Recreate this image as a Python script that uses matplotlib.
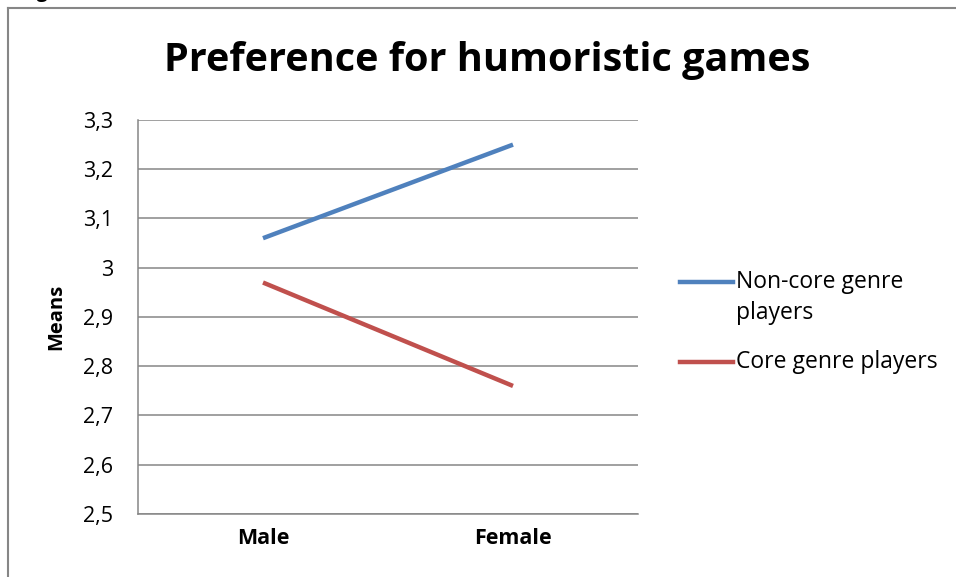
import matplotlib.pyplot as plt
from matplotlib.lines import Line2D
from matplotlib.ticker import FuncFormatter, MultipleLocator

# data
genders = ["Male", "Female"]
noncore = [3.06, 3.25]
core = [2.97, 2.76]
series_names = ["Non-core genre\nplayers", "Core genre players"]

blue = "#4F81BD"
red = "#C0504D"
grey = "#868686"

plt.rcParams['font.family'] = ['Open Sans', 'DejaVu Sans']

fig = plt.figure(figsize=(9.56, 5.77), dpi=100)
ax = fig.add_axes([138/956, 1 - 514/577, 500/956, 394/577])

x = [0, 1]
ax.plot(x, noncore, color=blue, lw=3.2, solid_capstyle='butt')
ax.plot(x, core, color=red, lw=3.2, solid_capstyle='butt')

ax.set_xlim(-0.5, 1.5)
ax.set_ylim(2.5, 3.3)
ax.yaxis.set_major_locator(MultipleLocator(0.1))
ax.yaxis.set_major_formatter(FuncFormatter(lambda v, p: ("%g" % round(v, 2)).replace(".", ",")))
ax.set_xticks(x)
ax.set_xticklabels(genders, fontweight='bold', fontsize=15.5)
ax.tick_params(axis='y', length=0, pad=18, labelsize=15.5)
ax.tick_params(axis='x', length=0, pad=10)
ax.grid(axis='y', color=grey, lw=1.1)
ax.set_axisbelow(True)
for s in ["top", "right"]:
    ax.spines[s].set_visible(False)
for s in ["left", "bottom"]:
    ax.spines[s].set_color(grey)
    ax.spines[s].set_linewidth(1.1)

ax.set_ylabel("Means", fontweight='bold', fontsize=14.5, labelpad=12)

fig.text(487/956, 1 - 60/577, "Preference for humoristic games",
         fontsize=28.5, fontweight='bold', ha='center', va='center')

# legend drawn by hand (excel style: handle at first line)
leg = [(282, blue, series_names[0]), (362, red, series_names[1])]
for yy, c, lab in leg:
    fy = 1 - yy/577
    fig.add_artist(Line2D([680/956, 733/956], [fy, fy], color=c, lw=3.2,
                          transform=fig.transFigure))
    fig.text(736/956, fy + 12/577, lab, fontsize=16.5, ha='left', va='top',
             linespacing=1.4)

# chart frame
fig.add_artist(Line2D([8/956, 8/956], [0, 1 - 8/577], color=grey, lw=1.5,
                      transform=fig.transFigure))
fig.add_artist(Line2D([8/956, 1], [1 - 8/577, 1 - 8/577], color=grey, lw=1.5,
                      transform=fig.transFigure))

# caption cut at the top of the page
fig.text(20/956, 1 + 3/577, "Fig. 5", fontsize=14, fontweight='bold',
         ha='left', va='baseline')

fig.savefig("out.png", dpi=100)
